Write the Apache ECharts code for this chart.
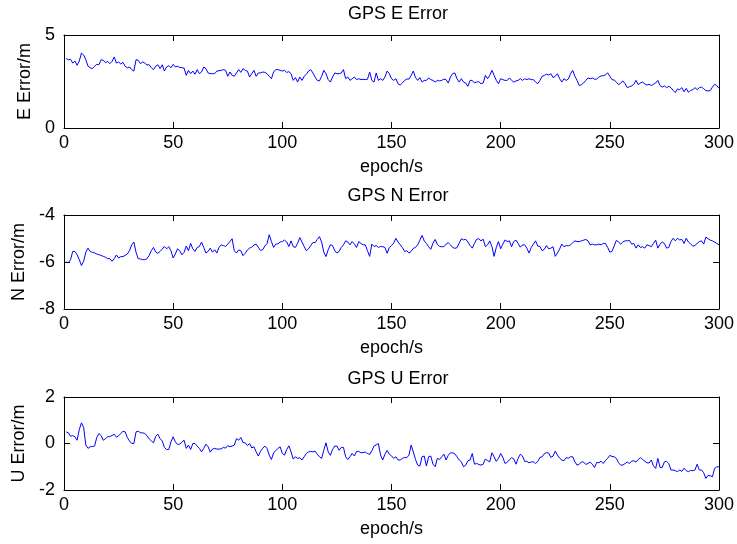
<!DOCTYPE html>
<html>
<head>
<meta charset="utf-8">
<script src="https://cdn.jsdelivr.net/npm/echarts@6/dist/echarts.min.js"></script>
<style>
  html, body { margin: 0; padding: 0; background: #ffffff; }
  #chart { width: 737px; height: 544px; }
</style>
</head>
<body>
<div id="chart"></div>
<script>
// East error per epoch (m), epochs 1..300
const eError = [
  3.73, 3.67, 3.69, 3.49, 3.60, 3.37, 3.60, 4.03, 3.92, 3.67,
  3.32, 3.24, 3.19, 3.32, 3.42, 3.40, 3.67, 3.64, 3.51, 3.58,
  3.46, 3.58, 3.82, 3.49, 3.55, 3.44, 3.53, 3.32, 3.24, 3.28,
  3.14, 3.06, 3.67, 3.64, 3.46, 3.55, 3.49, 3.39, 3.40, 3.24,
  3.14, 3.32, 3.40, 3.19, 3.40, 3.06, 3.28, 3.35, 3.24, 3.42,
  3.28, 3.32, 3.26, 3.24, 3.22, 2.83, 3.10, 2.92, 3.06, 2.89,
  3.14, 2.92, 3.01, 3.28, 3.19, 2.96, 2.92, 2.92, 2.92, 3.06,
  3.08, 3.10, 3.14, 3.10, 2.78, 3.01, 2.83, 2.78, 2.96, 3.14,
  2.99, 3.19, 3.10, 3.06, 2.74, 2.92, 3.10, 2.78, 2.96, 2.96,
  3.01, 2.99, 2.92, 2.78, 2.65, 3.01, 3.14, 3.14, 3.10, 3.06,
  3.10, 2.99, 3.03, 2.92, 2.56, 2.71, 2.47, 2.74, 2.56, 2.78,
  2.89, 3.06, 3.14, 2.96, 2.74, 2.56, 2.53, 2.78, 3.10, 2.92,
  2.60, 2.47, 2.74, 2.96, 2.92, 2.92, 2.96, 3.14, 2.65, 2.74,
  2.56, 2.65, 2.74, 2.60, 2.65, 2.60, 2.62, 2.60, 2.62, 3.01,
  2.56, 2.47, 2.96, 2.56, 2.65, 2.56, 2.74, 3.06, 2.92, 2.65,
  2.56, 2.65, 2.38, 2.31, 2.42, 2.56, 2.63, 2.63, 2.83, 3.06,
  2.71, 2.56, 2.71, 2.47, 2.56, 2.56, 2.69, 2.60, 2.56, 2.47,
  2.56, 2.53, 2.56, 2.63, 2.60, 2.42, 2.74, 2.92, 2.96, 2.65,
  2.47, 2.65, 2.47, 2.42, 2.24, 2.56, 2.56, 2.42, 2.47, 2.49,
  2.38, 2.42, 2.83, 2.65, 2.83, 3.10, 2.83, 2.56, 2.38, 2.65,
  2.60, 2.56, 2.56, 2.69, 2.56, 2.47, 2.53, 2.56, 2.65, 2.56,
  2.65, 2.60, 2.65, 2.60, 2.60, 2.47, 2.38, 2.56, 2.78, 2.83,
  2.89, 2.85, 2.92, 2.71, 2.78, 2.92, 2.65, 2.47, 2.65, 2.56,
  2.63, 2.92, 3.10, 2.78, 2.56, 2.28, 2.33, 2.42, 2.56, 2.69,
  2.65, 2.69, 2.62, 2.63, 2.74, 2.80, 2.81, 2.85, 2.97, 2.78,
  2.60, 2.58, 2.47, 2.33, 2.42, 2.53, 2.38, 2.17, 2.22, 2.26,
  2.35, 2.56, 2.33, 2.42, 2.47, 2.37, 2.31, 2.35, 2.28, 2.35,
  2.42, 2.56, 2.28, 2.20, 2.26, 2.17, 2.24, 2.17, 2.02, 1.90,
  2.10, 2.06, 2.17, 1.95, 2.13, 1.92, 2.02, 2.06, 2.17, 2.06,
  2.17, 2.20, 2.11, 2.01, 1.99, 2.01, 2.20, 2.35, 2.28, 2.13
];

// North error per epoch (m)
const nError = [
  -6.00, -6.03, -5.90, -5.55, -5.55, -5.69, -5.90, -6.15, -5.97, -5.58,
  -5.41, -5.55, -5.59, -5.61, -5.66, -5.69, -5.72, -5.76, -5.80, -5.86,
  -5.86, -5.97, -5.86, -5.70, -5.83, -5.77, -5.77, -5.72, -5.66, -5.52,
  -5.27, -5.15, -5.59, -5.86, -5.87, -5.90, -5.90, -5.86, -5.72, -5.52,
  -5.38, -5.58, -5.63, -5.55, -5.45, -5.34, -5.44, -5.35, -5.52, -5.83,
  -5.66, -5.44, -5.52, -5.69, -5.59, -5.32, -5.52, -5.21, -5.44, -5.55,
  -5.38, -5.34, -5.15, -5.38, -5.62, -5.55, -5.41, -5.58, -5.48, -5.62,
  -5.38, -5.27, -5.30, -5.34, -5.24, -5.13, -5.01, -5.52, -5.62, -5.49,
  -5.52, -5.73, -5.63, -5.49, -5.41, -5.37, -5.28, -5.24, -5.37, -5.51,
  -5.48, -5.32, -5.21, -4.84, -5.13, -5.38, -5.24, -5.23, -5.15, -5.13,
  -5.07, -5.15, -5.34, -5.10, -5.35, -5.38, -5.20, -4.96, -5.15, -5.34,
  -5.52, -5.44, -5.30, -5.17, -5.18, -5.04, -4.92, -5.15, -5.58, -5.77,
  -5.48, -5.27, -5.30, -5.52, -5.62, -5.55, -5.38, -5.27, -5.10, -5.15,
  -5.27, -5.13, -5.24, -5.38, -5.13, -5.21, -5.27, -5.27, -5.52, -5.76,
  -5.24, -5.34, -5.30, -5.38, -5.34, -5.35, -5.38, -5.63, -5.38, -5.30,
  -5.20, -4.99, -5.15, -5.27, -5.38, -5.55, -5.52, -5.62, -5.55, -5.42,
  -5.38, -5.27, -5.07, -4.87, -5.10, -5.21, -5.35, -5.46, -5.20, -5.04,
  -5.24, -5.34, -5.35, -5.35, -5.24, -5.18, -5.27, -5.38, -5.42, -5.39,
  -5.20, -5.01, -5.06, -5.03, -5.15, -5.30, -5.41, -5.21, -5.03, -5.01,
  -5.10, -5.03, -5.35, -5.27, -5.10, -5.34, -5.76, -5.38, -5.13, -5.44,
  -5.24, -5.06, -5.13, -5.10, -5.35, -5.13, -5.07, -5.21, -5.37, -5.27,
  -5.27, -5.41, -5.62, -5.38, -5.24, -5.10, -5.32, -5.34, -5.52, -5.46,
  -5.30, -5.44, -5.41, -5.35, -5.76, -5.62, -5.45, -5.24, -5.35, -5.30,
  -5.31, -5.27, -5.18, -5.10, -5.13, -5.13, -5.10, -5.07, -5.04, -5.10,
  -5.27, -5.24, -5.27, -5.27, -5.24, -5.27, -5.21, -5.21, -5.38, -5.58,
  -5.55, -5.32, -5.08, -5.15, -5.24, -5.14, -5.10, -5.10, -5.08, -5.24,
  -5.21, -5.41, -5.27, -5.38, -5.35, -5.41, -5.27, -5.30, -5.35, -5.21,
  -5.07, -5.41, -5.24, -5.15, -5.21, -5.41, -5.38, -5.13, -4.99, -5.10,
  -4.99, -5.06, -5.04, -5.21, -4.99, -5.15, -5.23, -5.32, -5.30, -5.21,
  -5.13, -5.10, -5.24, -4.94, -5.01, -5.07, -5.10, -5.15, -5.21, -5.27
];

// Up error per epoch (m)
const uError = [
  0.50, 0.46, 0.31, 0.34, 0.29, 0.14, 0.60, 0.89, 0.69, -0.07,
  -0.21, -0.14, -0.13, -0.11, 0.26, 0.43, 0.34, 0.14, 0.21, 0.29,
  0.30, 0.34, 0.40, 0.27, 0.33, 0.43, 0.53, 0.50, 0.26, 0.11,
  0.00, 0.00, 0.50, 0.53, 0.46, 0.46, 0.43, 0.34, 0.20, 0.11,
  0.03, 0.31, 0.40, 0.21, 0.11, -0.17, -0.26, -0.26, 0.07, 0.29,
  0.07, -0.04, -0.03, 0.07, 0.14, -0.21, -0.07, -0.26, 0.00, 0.00,
  -0.11, -0.21, -0.36, -0.21, -0.03, -0.14, -0.37, -0.24, -0.21, -0.24,
  -0.24, -0.23, -0.17, -0.20, -0.09, -0.14, -0.11, -0.07, 0.21, 0.14,
  0.26, 0.04, 0.03, -0.09, 0.00, -0.19, -0.14, -0.36, -0.54, -0.34,
  -0.21, -0.11, -0.21, -0.50, -0.69, -0.40, -0.31, -0.21, -0.14, -0.43,
  -0.50, -0.26, -0.10, -0.36, -0.67, -0.57, -0.64, -0.61, -0.71, -0.57,
  -0.43, -0.36, -0.34, -0.36, -0.33, -0.46, -0.57, -0.64, -0.29, 0.03,
  -0.36, -0.51, -0.26, -0.11, -0.11, -0.29, -0.17, -0.17, -0.57, -0.69,
  -0.57, -0.43, -0.54, -0.34, -0.34, -0.40, -0.39, -0.37, -0.43, -0.47,
  -0.31, -0.11, -0.06, 0.00, -0.50, -0.71, -0.46, -0.30, -0.46, -0.53,
  -0.64, -0.57, -0.71, -0.71, -0.64, -0.60, -0.61, -0.50, -0.07, -0.36,
  -0.69, -0.93, -0.97, -0.57, -0.54, -0.97, -0.57, -0.54, -0.89, -1.00,
  -0.64, -0.69, -0.57, -0.46, -0.71, -0.51, -0.40, -0.40, -0.44, -0.57,
  -0.71, -0.79, -1.00, -0.93, -0.74, -0.71, -0.43, -0.89, -0.86, -0.90,
  -0.93, -0.89, -0.67, -0.74, -0.79, -0.40, -0.57, -0.77, -0.64, -0.43,
  -0.60, -0.86, -0.81, -0.70, -0.61, -0.66, -0.89, -0.64, -0.46, -0.54,
  -0.77, -0.77, -0.83, -0.79, -0.79, -0.86, -0.77, -0.60, -0.57, -0.44,
  -0.39, -0.41, -0.60, -0.54, -0.33, -0.50, -0.63, -0.71, -0.74, -0.61,
  -0.63, -0.57, -0.57, -0.79, -0.93, -0.89, -0.79, -0.80, -0.90, -0.86,
  -0.80, -0.89, -1.03, -0.81, -0.83, -0.76, -0.86, -0.73, -0.64, -0.51,
  -0.56, -0.57, -0.64, -0.83, -0.93, -0.93, -0.86, -0.80, -0.86, -0.76,
  -0.74, -0.80, -0.69, -0.61, -0.69, -0.76, -0.83, -0.84, -0.71, -0.97,
  -1.07, -0.64, -1.03, -1.03, -0.79, -0.77, -0.86, -1.14, -1.14, -1.17,
  -1.21, -1.14, -1.20, -1.06, -1.17, -1.21, -1.16, -1.17, -1.14, -0.89,
  -1.14, -1.14, -1.26, -1.50, -1.37, -1.39, -1.43, -1.07, -1.00, -1.01
];

// Panel titles and axis labels
const titles = ['GPS E Error', 'GPS N Error', 'GPS U Error'];
const yNames = ['E Error/m', 'N Error/m', 'U Error/m'];
const xName = 'epoch/s';
// Axis ranges: [min, max, interval]
const xRange = [0, 300, 50];
const yRanges = [[0, 5, 5], [-8, -4, 2], [-2, 2, 2]];
const series = [eError, nError, uError];

const FONT = 'Liberation Sans, Arial, sans-serif';
const FS = 18;
const layout = [
  { top: 35, height: 93, titleTop: 0 },
  { top: 215, height: 94, titleTop: 182 },
  { top: 397, height: 93, titleTop: 365 }
];

const axisLine = { onZero: false, lineStyle: { color: '#000', width: 1 } };
const tick = { inside: true, length: 6, lineStyle: { color: '#000', width: 1 } };
const textStyle = { color: '#000', fontSize: FS, fontFamily: FONT };

const option = {
  animation: false,
  backgroundColor: '#ffffff',
  title: [], grid: [], xAxis: [], yAxis: [], series: []
};

series.forEach((vals, k) => {
  const L = layout[k];
  const [ymin, ymax, yint] = yRanges[k];
  option.title.push({
    text: titles[k], left: 393, top: L.titleTop, textAlign: 'center',
    textStyle: Object.assign({ fontWeight: 'normal' }, textStyle)
  });
  option.grid.push({ left: 64, top: L.top, width: 657, height: L.height, containLabel: false });
  const xBase = {
    type: 'value', gridIndex: k, min: xRange[0], max: xRange[1], interval: xRange[2],
    axisLine, axisTick: tick, splitLine: { show: false }
  };
  option.xAxis.push(Object.assign({}, xBase, {
    position: 'bottom',
    axisLabel: Object.assign({ margin: 6 }, textStyle),
    name: xName, nameLocation: 'middle', nameGap: 30, nameTextStyle: textStyle
  }));
  option.xAxis.push(Object.assign({}, xBase, { position: 'top', axisLabel: { show: false } }));
  const yBase = {
    type: 'value', gridIndex: k, min: ymin, max: ymax, interval: yint,
    axisLine, axisTick: tick, splitLine: { show: false }
  };
  option.yAxis.push(Object.assign({}, yBase, {
    position: 'left',
    axisLabel: Object.assign({ margin: 9 }, textStyle),
    name: yNames[k], nameLocation: 'middle', nameGap: 28, nameRotate: 90, nameTextStyle: textStyle
  }));
  option.yAxis.push(Object.assign({}, yBase, { position: 'right', axisLabel: { show: false } }));
  option.series.push({
    type: 'line', xAxisIndex: 2 * k, yAxisIndex: 2 * k,
    data: vals.map((v, i) => [i + 1, v]),
    showSymbol: false, symbol: 'none',
    lineStyle: { color: '#0000ff', width: 1 },
    itemStyle: { color: '#0000ff' }
  });
});

const chart = echarts.init(document.getElementById('chart'), null, { renderer: 'canvas' });
chart.setOption(option);
</script>
</body>
</html>
